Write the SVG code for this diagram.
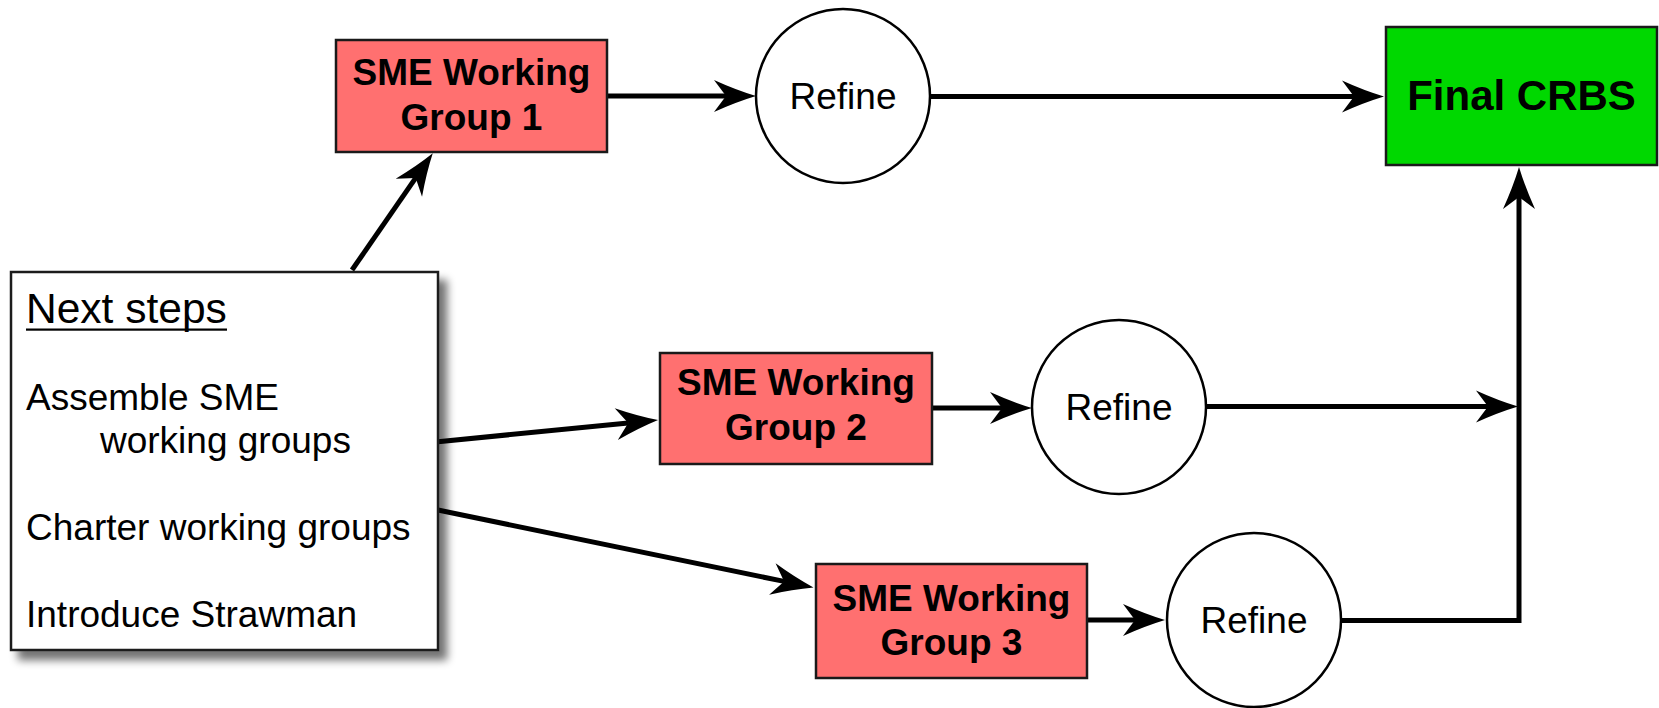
<svg xmlns="http://www.w3.org/2000/svg" width="1659" height="708" viewBox="0 0 1659 708">
<defs>
<style>
.txt{font-family:"Liberation Sans",Arial,sans-serif;fill:#000}
.bold{font-weight:bold}
.sme{fill:#FF7070;stroke:#1a1a1a;stroke-width:2.5}
.ref{fill:#fff;stroke:#000;stroke-width:2.5}
.con{fill:none;stroke:#000;stroke-width:5}
.arr{marker-end:url(#ah)}
</style>
<marker id="ah" markerUnits="userSpaceOnUse" viewBox="-1 -18 46 36" markerWidth="46" markerHeight="36" refX="12" refY="0" orient="auto">
<path d="M42,0 Q22,-6 0,-16 L12,0 L0,16 Q22,6 42,0 Z" fill="#000"/>
</marker>
<filter id="sh" x="-10%" y="-10%" width="130%" height="130%">
<feGaussianBlur in="SourceAlpha" stdDeviation="4"/>
<feOffset dx="8" dy="9" result="b"/>
<feComponentTransfer><feFuncA type="linear" slope="0.55"/></feComponentTransfer>
<feMerge><feMergeNode/><feMergeNode in="SourceGraphic"/></feMerge>
</filter>
</defs>
<rect width="1659" height="708" fill="#fff"/>
<g id="connectors">
<line class="con arr" x1="352" y1="270" x2="415.7" y2="177.9"/>
<line class="con arr" x1="438" y1="441.7" x2="628.2" y2="423"/>
<line class="con arr" x1="438" y1="510" x2="784.1" y2="581.4"/>
<line class="con arr" x1="607" y1="96" x2="726" y2="96"/>
<line class="con arr" x1="932" y1="408" x2="1002" y2="408"/>
<line class="con arr" x1="1087" y1="620" x2="1135" y2="620"/>
<line class="con arr" x1="929" y1="96.5" x2="1354" y2="96.5"/>
<line class="con arr" x1="1206" y1="406.5" x2="1488" y2="406.5"/>
<polyline class="con arr" points="1341,620.5 1519,620.5 1519,197"/>
</g>
<g id="next-steps">
<rect x="11" y="272" width="427" height="378" fill="#fff" stroke="#1a1a1a" stroke-width="2.5" filter="url(#sh)"/>
<text class="txt" x="26" y="323" font-size="42.5">Next steps</text>
<rect x="26" y="328.5" width="201" height="2.2" fill="#000"/>
<text class="txt" x="26" y="410" font-size="37">Assemble SME</text>
<text class="txt" x="100" y="453" font-size="37">working groups</text>
<text class="txt" x="26" y="540" font-size="37">Charter working groups</text>
<text class="txt" x="26" y="627" font-size="37">Introduce Strawman</text>
</g>
<g id="sme1">
<rect class="sme" x="336" y="40" width="271" height="112"/>
<text class="txt bold" x="471.5" y="85" font-size="37" text-anchor="middle">SME Working</text>
<text class="txt bold" x="471.5" y="130" font-size="37" text-anchor="middle">Group 1</text>
</g>
<g id="sme2">
<rect class="sme" x="660" y="353" width="272" height="111"/>
<text class="txt bold" x="796" y="395" font-size="37" text-anchor="middle">SME Working</text>
<text class="txt bold" x="796" y="440" font-size="37" text-anchor="middle">Group 2</text>
</g>
<g id="sme3">
<rect class="sme" x="816" y="564" width="271" height="114"/>
<text class="txt bold" x="951.5" y="611" font-size="37" text-anchor="middle">SME Working</text>
<text class="txt bold" x="951.5" y="655" font-size="37" text-anchor="middle">Group 3</text>
</g>
<g id="refine1">
<circle class="ref" cx="843" cy="96" r="87"/>
<text class="txt" x="843" y="109" font-size="37" text-anchor="middle">Refine</text>
</g>
<g id="refine2">
<circle class="ref" cx="1119" cy="407" r="87"/>
<text class="txt" x="1119" y="420" font-size="37" text-anchor="middle">Refine</text>
</g>
<g id="refine3">
<circle class="ref" cx="1254" cy="620" r="87"/>
<text class="txt" x="1254" y="633" font-size="37" text-anchor="middle">Refine</text>
</g>
<g id="final">
<rect x="1386" y="27" width="271" height="138" fill="#00D800" stroke="#1a1a1a" stroke-width="2.5"/>
<text class="txt bold" x="1521.5" y="110" font-size="42" text-anchor="middle">Final CRBS</text>
</g>
</svg>
